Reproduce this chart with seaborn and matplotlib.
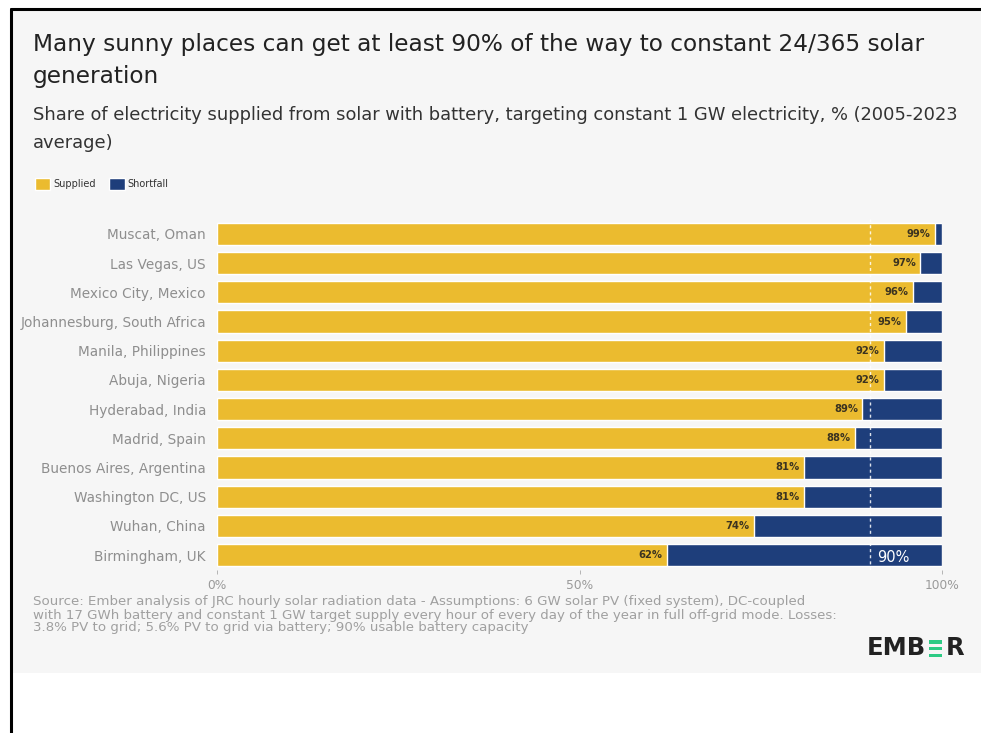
import matplotlib
matplotlib.use("Agg")
import matplotlib.pyplot as plt
from matplotlib.patches import Patch, Rectangle
from matplotlib.lines import Line2D
import seaborn as sns
import pandas as pd

# Data
cities = [
    "Muscat, Oman", "Las Vegas, US", "Mexico City, Mexico",
    "Johannesburg, South Africa", "Manila, Philippines", "Abuja, Nigeria",
    "Hyderabad, India", "Madrid, Spain", "Buenos Aires, Argentina",
    "Washington DC, US", "Wuhan, China", "Birmingham, UK",
]
supplied = [99, 97, 96, 95, 92, 92, 89, 88, 81, 81, 74, 62]
shortfall = [1, 3, 4, 5, 8, 8, 11, 12, 19, 19, 26, 38]
target_share = 90
x_ticks = [0, 50, 100]
x_tick_labels = ["0%", "50%", "100%"]

YELLOW = "#EBBB2F"
NAVY = "#1E3E7B"
BG = "#F6F6F6"

df = pd.DataFrame({
    "city": cities,
    "supplied": supplied,
    "total": [s + f for s, f in zip(supplied, shortfall)],
})

sns.set_theme(style="white")
plt.rcParams["font.family"] = ["DejaVu Sans"]

W, H = 981, 733
fig = plt.figure(figsize=(W / 100, H / 100), dpi=100)
fig.patch.set_facecolor("white")


def fx(px):
    return px / W


def fy(py):
    return 1 - py / H


# grey card behind the chart
fig.patches.append(Rectangle((fx(12), fy(673)), 1, 663 / H,
                             transform=fig.transFigure, facecolor=BG,
                             edgecolor="none", zorder=-10))
# frame lines on top and left
fig.add_artist(Line2D([fx(11), 1], [fy(9), fy(9)],
                      transform=fig.transFigure, color="black", lw=2.2))
fig.add_artist(Line2D([fx(11), fx(11)], [0, fy(9)],
                      transform=fig.transFigure, color="black", lw=2.2))

ax = fig.add_axes([fx(217), fy(569.6), 725 / W, (569.6 - 219.4) / H])
ax.set_facecolor(BG)

# shortfall drawn as the full stack, supplied on top of it
sns.barplot(data=df, y="city", x="total", color=NAVY, orient="h",
            width=0.76, saturation=1, ax=ax)
sns.barplot(data=df, y="city", x="supplied", color=YELLOW, orient="h",
            width=0.76, saturation=1, ax=ax)

ax.axvline(target_share, color="white", lw=1.0, ls=(0, (2.2, 2.2)), alpha=0.85,
           zorder=5)

for i, v in enumerate(supplied):
    ax.text(v - 0.6, i, f"{v}%", ha="right", va="center", fontsize=7.2,
            fontweight="bold", color="#3B3320", zorder=6)

ax.text(target_share + 1.0, len(cities) - 1 + 0.08, f"{target_share}%",
        ha="left", va="center", fontsize=10.5, color="white", zorder=6)

ax.set_xlim(0, 100)
ax.set_ylim(len(cities) - 0.5, -0.5)
ax.set_xticks(x_ticks)
ax.set_xticklabels(x_tick_labels)
ax.set_xlabel("")
ax.set_ylabel("")
for s in ax.spines.values():
    s.set_visible(False)
ax.tick_params(axis="x", colors="#AAAAAA", labelsize=8.8, length=3, width=0.6,
               pad=4, bottom=True)
ax.tick_params(axis="y", colors="#8A8A8A", labelsize=9.8, length=0, pad=8)
for lab in ax.get_xticklabels():
    lab.set_color("#9A9A9A")
for lab in ax.get_yticklabels():
    lab.set_color("#8E8E8E")

# titles
fig.text(fx(33), fy(45),
         "Many sunny places can get at least 90% of the way to constant 24/365 solar",
         fontsize=16.75, color="#222222", va="center", ha="left")
fig.text(fx(33), fy(76), "generation",
         fontsize=16.75, color="#222222", va="center", ha="left")
fig.text(fx(33), fy(115),
         "Share of electricity supplied from solar with battery, targeting constant 1 GW electricity, % (2005-2023",
         fontsize=12.9, color="#333333", va="center", ha="left")
fig.text(fx(33), fy(143), "average)",
         fontsize=12.9, color="#333333", va="center", ha="left")

# legend
handles = [Patch(facecolor=YELLOW, label="Supplied"),
           Patch(facecolor=NAVY, label="Shortfall")]
fig.legend(handles=handles, loc="center left",
           bbox_to_anchor=(fx(26), fy(184)), ncol=2, frameon=False,
           fontsize=7.0, handlelength=1.6, handleheight=1.6, handletextpad=0.3,
           columnspacing=1.4, labelcolor="#333333")

# footer
footer_lines = [
    "Source: Ember analysis of JRC hourly solar radiation data - Assumptions: 6 GW solar PV (fixed system), DC-coupled",
    "with 17 GWh battery and constant 1 GW target supply every hour of every day of the year in full off-grid mode. Losses:",
    "3.8% PV to grid; 5.6% PV to grid via battery; 90% usable battery capacity",
]
for k, line in enumerate(footer_lines):
    fig.text(fx(33), fy(602 + 13 * k), line, fontsize=9.65, color="#A0A0A0",
             va="center", ha="left")

# wordmark
emb = fig.text(fx(867), fy(648), "EMB", fontsize=17.5, fontweight="bold",
               color="#222222", va="center", ha="left")
fig.canvas.draw()
bb = emb.get_window_extent()
x0 = bb.x1 + 3
for k in range(3):
    fig.patches.append(Rectangle((x0 / W, fy(640 + 6.8 * k + 3.6)),
                                 13 / W, 3.6 / H, transform=fig.transFigure,
                                 facecolor="#2DCB85", edgecolor="none"))
fig.text((x0 + 16) / W, fy(648), "R", fontsize=17.5, fontweight="bold",
         color="#222222", va="center", ha="left")

fig.savefig("out.png", dpi=100, facecolor="white")
